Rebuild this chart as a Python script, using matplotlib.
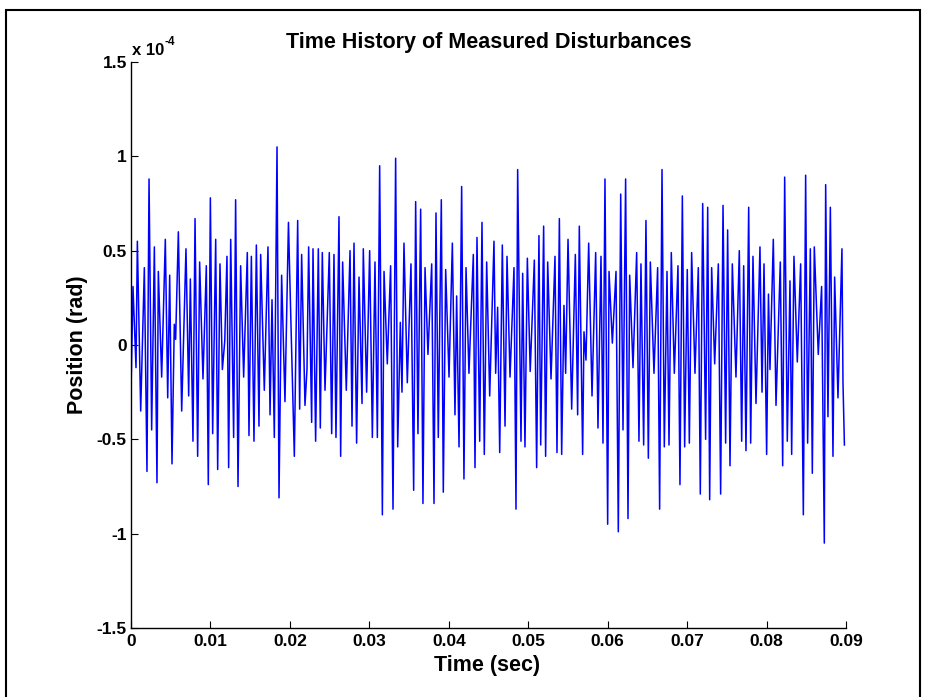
import matplotlib
matplotlib.use("Agg")
import matplotlib.pyplot as plt
from matplotlib.patches import Rectangle

# Measured disturbance record: time in milliseconds, position in units of 1e-4 rad
time_ms = [
    0.00, 0.25, 0.63, 0.80, 1.22, 1.68, 2.01, 2.27, 2.60, 2.94,
    3.27, 3.44, 3.86, 4.32, 4.62, 4.87, 5.16, 5.45, 5.62, 5.96,
    6.38, 6.92, 7.26, 7.47, 7.80, 8.06, 8.39, 8.64, 9.06, 9.48,
    9.73, 9.99, 10.28, 10.66, 10.91, 11.20, 11.50, 11.80, 12.08, 12.29,
    12.55, 12.92, 13.17, 13.47, 13.80, 14.18, 14.64, 14.85, 15.15, 15.48,
    15.78, 16.11, 16.32, 16.78, 17.24, 17.50, 17.75, 18.04, 18.38, 18.63,
    18.96, 19.38, 19.82, 20.10, 20.56, 20.98, 21.23, 21.48, 21.90, 22.15,
    22.36, 22.74, 22.91, 23.24, 23.58, 23.83, 24.08, 24.42, 24.96, 25.26,
    25.55, 25.80, 26.18, 26.39, 26.64, 27.10, 27.57, 27.82, 28.07, 28.40,
    28.70, 29.08, 29.24, 29.66, 30.04, 30.38, 30.71, 31.01, 31.30, 31.64,
    31.85, 32.26, 32.68, 32.98, 33.31, 33.57, 33.90, 34.11, 34.36, 34.78,
    35.24, 35.58, 35.83, 36.12, 36.46, 36.75, 37.01, 37.38, 37.85, 38.14,
    38.39, 38.68, 39.06, 39.31, 39.61, 40.03, 40.45, 40.78, 40.99, 41.29,
    41.62, 41.91, 42.17, 42.54, 43.09, 43.30, 43.55, 43.89, 44.18, 44.47,
    44.77, 45.15, 45.69, 45.90, 46.15, 46.41, 46.74, 47.08, 47.33, 47.71,
    48.21, 48.46, 48.67, 49.09, 49.30, 49.59, 49.89, 50.25, 50.77, 51.06,
    51.35, 51.57, 51.94, 52.19, 52.45, 52.87, 53.37, 53.62, 53.92, 54.21,
    54.50, 54.71, 55.01, 55.47, 55.93, 56.22, 56.43, 56.85, 57.02, 57.27,
    57.61, 58.03, 58.49, 58.78, 59.16, 59.41, 59.66, 60.00, 60.17, 60.59,
    61.05, 61.34, 61.64, 61.93, 62.26, 62.56, 62.77, 63.19, 63.65, 63.94,
    64.19, 64.53, 64.82, 65.12, 65.37, 65.83, 66.29, 66.54, 66.84, 67.13,
    67.47, 67.72, 68.01, 68.39, 68.85, 69.10, 69.40, 69.69, 70.02, 70.28,
    70.57, 70.99, 71.41, 71.66, 71.96, 72.33, 72.59, 72.84, 73.09, 73.47,
    73.93, 74.22, 74.52, 74.85, 75.10, 75.40, 75.69, 76.15, 76.57, 76.87,
    77.12, 77.41, 77.75, 78.00, 78.29, 78.67, 79.17, 79.43, 79.68, 80.01,
    80.24, 80.43, 80.85, 81.19, 81.73, 82.03, 82.28, 82.61, 82.95, 83.16,
    83.45, 83.87, 84.29, 84.63, 84.92, 85.17, 85.51, 85.76, 86.01, 86.51,
    86.93, 87.27, 87.44, 87.73, 88.03, 88.36, 88.57, 88.99, 89.49, 89.62,
    89.80,
]

position_1e4 = [
    -0.25, 0.31, -0.12, 0.55, -0.35, 0.41, -0.67, 0.88, -0.45, 0.52,
    -0.73, 0.39, -0.17, 0.56, -0.28, 0.37, -0.63, 0.11, 0.03, 0.60,
    -0.35, 0.51, -0.27, 0.35, -0.51, 0.67, -0.59, 0.44, -0.18, 0.42,
    -0.74, 0.78, -0.47, 0.56, -0.66, 0.43, -0.13, 0.02, 0.47, -0.65,
    0.56, -0.49, 0.77, -0.75, 0.42, -0.17, 0.49, -0.48, 0.47, -0.51,
    0.53, -0.43, 0.48, -0.24, 0.52, -0.37, 0.24, -0.49, 1.05, -0.81,
    0.37, -0.30, 0.65, 0.17, -0.59, 0.66, -0.34, 0.48, -0.32, -0.13,
    0.52, -0.41, 0.51, -0.51, 0.51, -0.44, 0.49, -0.24, 0.49, -0.47,
    0.48, -0.49, 0.68, -0.59, 0.44, -0.24, 0.50, -0.43, 0.54, -0.52,
    0.36, -0.31, 0.51, -0.25, 0.50, -0.49, 0.44, -0.49, 0.95, -0.90,
    0.39, -0.10, 0.42, -0.87, 0.99, -0.54, 0.12, -0.25, 0.54, -0.20,
    0.43, -0.77, 0.76, -0.47, 0.72, -0.84, 0.41, -0.05, 0.43, -0.84,
    0.70, -0.49, 0.77, -0.78, 0.40, -0.17, 0.54, -0.37, 0.26, -0.54,
    0.84, -0.71, 0.41, -0.15, 0.48, -0.65, 0.57, -0.51, 0.65, -0.58,
    0.44, -0.27, 0.55, -0.15, 0.20, -0.57, 0.53, -0.43, 0.47, -0.17,
    0.41, -0.87, 0.93, -0.51, 0.38, -0.54, 0.46, -0.14, 0.45, -0.65,
    0.58, -0.53, 0.63, -0.59, 0.44, -0.18, 0.47, -0.57, 0.67, -0.58,
    0.21, -0.15, 0.56, -0.34, 0.48, -0.37, 0.63, -0.58, 0.07, -0.08,
    0.54, -0.27, 0.49, -0.44, 0.47, -0.52, 0.88, -0.95, 0.39, 0.01,
    0.39, -0.99, 0.80, -0.45, 0.88, -0.92, 0.37, -0.12, 0.49, -0.51,
    0.43, -0.53, 0.66, -0.60, 0.44, -0.15, 0.41, -0.87, 0.93, -0.54,
    0.39, -0.53, 0.49, -0.15, 0.42, -0.74, 0.79, -0.54, 0.40, -0.52,
    0.49, -0.15, 0.41, -0.79, 0.75, -0.50, 0.73, -0.82, 0.41, -0.10,
    0.43, -0.79, 0.74, -0.52, 0.61, -0.64, 0.43, -0.17, 0.50, -0.51,
    0.42, -0.56, 0.73, -0.52, 0.47, -0.31, 0.52, -0.25, 0.43, -0.58,
    0.27, -0.13, 0.56, -0.32, 0.44, -0.64, 0.89, -0.51, 0.34, -0.58,
    0.47, -0.09, 0.43, -0.90, 0.90, -0.52, 0.51, -0.68, 0.52, -0.05,
    0.31, -1.05, 0.85, -0.38, 0.73, -0.59, 0.36, -0.28, 0.51, -0.20,
    -0.53,
]

x_ticks = [0, 0.01, 0.02, 0.03, 0.04, 0.05, 0.06, 0.07, 0.08, 0.09]
x_tick_labels = ["0", "0.01", "0.02", "0.03", "0.04", "0.05", "0.06", "0.07", "0.08", "0.09"]
y_ticks = [-1.5, -1, -0.5, 0, 0.5, 1, 1.5]
y_tick_labels = ["-1.5", "-1", "-0.5", "0", "0.5", "1", "1.5"]

plt.rcParams["font.family"] = ["Liberation Sans", "DejaVu Sans"]
plt.rcParams["font.weight"] = "bold"

W, H = 926, 697
fig = plt.figure(figsize=(W / 100, H / 100), dpi=100)
fig.patch.set_facecolor("white")

ax = fig.add_axes([131 / W, 1 - 628 / H, 715 / W, 566 / H])
time_s = [t / 1000.0 for t in time_ms]
ax.plot(time_s, position_1e4, color="#0000ff", lw=1.1)

ax.set_xlim(0, 0.09)
ax.set_ylim(-1.5, 1.5)
ax.set_xticks(x_ticks)
ax.set_xticklabels(x_tick_labels)
ax.set_yticks(y_ticks)
ax.set_yticklabels(y_tick_labels)
for s in ("top", "right"):
    ax.spines[s].set_visible(False)
for s in ("left", "bottom"):
    ax.spines[s].set_linewidth(1.0)
    ax.spines[s].set_color("black")
ax.tick_params(direction="in", length=5, width=0.8, labelsize=12.5, colors="black")
ax.tick_params(axis="x", pad=4)
ax.tick_params(axis="y", pad=3)
for lab in ax.get_xticklabels() + ax.get_yticklabels():
    lab.set_fontweight("bold")

# exponent marker above the y axis
fig.text(132 / W, 1 - 55 / H, "x 10", fontsize=12, fontweight="bold",
         ha="left", va="baseline")
fig.text(164.5 / W, 1 - 45 / H, "-4", fontsize=8.5, fontweight="bold",
         ha="left", va="baseline")

fig.text(488.5 / W, 1 - 48 / H, "Time History of Measured Disturbances",
         fontsize=15.5, fontweight="bold", ha="center", va="baseline")
fig.text(487 / W, 1 - 671 / H, "Time (sec)", fontsize=15.5, fontweight="bold",
         ha="center", va="baseline")
fig.text(78 / W, 1 - 345 / H, "Position (rad)", fontsize=15.5, fontweight="bold",
         ha="center", va="center", rotation=90)

# outer frame of the figure window
fig.add_artist(Rectangle((6 / W, -0.02), 914 / W, 1.02 - 10 / H,
                         transform=fig.transFigure, fill=False,
                         edgecolor="black", lw=1.5))

fig.savefig("out.png", dpi=100, facecolor="white")
